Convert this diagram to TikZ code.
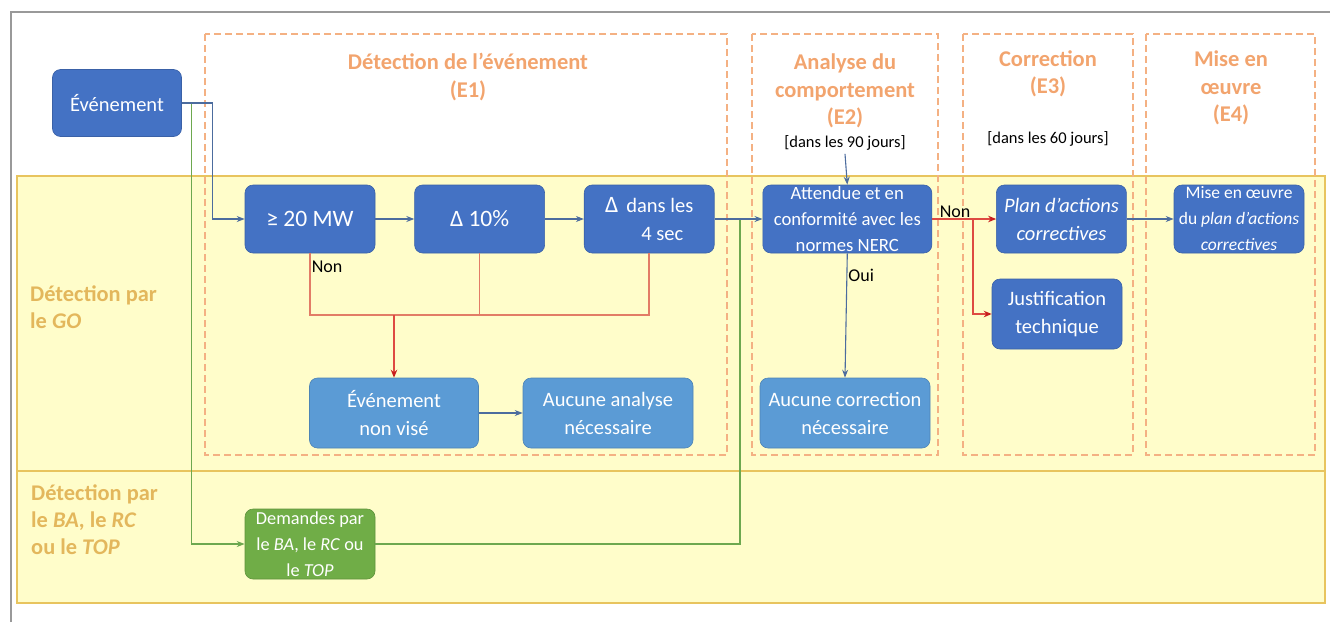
\documentclass[tikz,border=0pt]{standalone}
\usepackage{fontspec}
\setmainfont{Carlito}
\usetikzlibrary{arrows.meta, positioning}

\definecolor{darkbox}{HTML}{4472C4}
\definecolor{lightbox}{HTML}{5B9BD5}
\definecolor{greenbox}{HTML}{70AD47}
\definecolor{stageline}{HTML}{F4B183}
\definecolor{stagetext}{HTML}{F2A46E}
\definecolor{bandfill}{HTML}{FFFDCA}
\definecolor{bandline}{HTML}{E8C45E}
\definecolor{bandtext}{HTML}{E3B75C}
\definecolor{flowblue}{HTML}{4C6C9E}
\definecolor{flowsalmon}{HTML}{E27C66}
\definecolor{flowred}{HTML}{DE4A42}
\definecolor{tipred}{HTML}{C81E1E}
\definecolor{flowgreen}{HTML}{6DA84F}

\begin{document}
\begin{tikzpicture}[
    x=1pt, y=-1pt,
    >=Stealth,
    % Styles
    darkbox/.style={rectangle, draw=darkbox!85!black, fill=darkbox, text=white, rounded corners=8pt, minimum width=130pt, minimum height=68pt, align=center, inner sep=0pt, line width=0.6pt, font=\fontsize{20.5}{28}\selectfont},
    smalltext/.style={font=\fontsize{18.7}{26}\selectfont},
    lightbox/.style={darkbox, draw=lightbox!85!black, fill=lightbox, minimum width=169pt, minimum height=70pt},
    greenbox/.style={darkbox, draw=greenbox!85!black, fill=greenbox, minimum height=70pt, font=\fontsize{18.3}{26}\selectfont},
    stagebox/.style={draw=stageline, dashed, dash pattern=on 7pt off 4pt, line width=1.6pt},
    stagetitle/.style={font=\fontsize{22.5}{27.5}\selectfont\bfseries, text=stagetext, align=center},
    delaytext/.style={font=\fontsize{16.5}{19}\selectfont, text=black},
    bandlabel/.style={font=\fontsize{22.4}{27}\selectfont\bfseries, text=bandtext, align=left, anchor=north west, inner sep=0pt},
    answer/.style={font=\fontsize{18}{20}\selectfont, text=black, inner sep=1pt},
    blueflow/.style={draw=flowblue, line width=1.1pt, -{Stealth[length=8pt, width=6pt]}},
    salmonflow/.style={draw=flowsalmon, line width=1.5pt},
    redarrow/.style={draw=flowred, line width=1.5pt, -{Stealth[length=8pt, width=6.5pt, color=tipred]}},
    greenflow/.style={draw=flowgreen, line width=1.3pt},
]

\useasboundingbox (0,0) rectangle (1330,622);

% === LANES ===
\fill[bandfill] (17,176) rectangle (1325,603);
\draw[bandline, line width=1.4pt] (17,176) rectangle (1325,603);
\draw[bandline, line width=1.4pt] (17,471) -- (1325,471);
\draw[gray!80, line width=1.6pt] (11,622) -- (11,12) -- (1330,12);

\node[bandlabel] (golabel) at (30,286) {Détection par\\le \textit{GO}};
\node[bandlabel] (balabel) at (31,485) {Détection par\\le \textit{BA}, le \textit{RC}\\ou le \textit{TOP}};

% === STAGES ===
\draw[stagebox] (205,34) rectangle (727,455);
\draw[stagebox] (752,34) rectangle (938,455);
\draw[stagebox] (963,34) rectangle (1133,455);
\draw[stagebox] (1146,34) rectangle (1315,455);

\node[stagetitle] (t1) at (468,77) {Détection de l’événement\\(E1)};
\node[stagetitle] (t2) at (845,91) {Analyse du\\comportement\\(E2)};
\node[delaytext] (d90) at (845,143) {[dans les 90 jours]};
\node[stagetitle] (t3) at (1048,74) {Correction\\(E3)};
\node[delaytext] (d60) at (1048,139) {[dans les 60 jours]};
\node[stagetitle] (t4) at (1231,88) {Mise en\\œuvre\\(E4)};

% === NODES ===
\node[darkbox, minimum width=129pt, minimum height=67pt] (evt) at (117,103) {Événement};
\node[darkbox, font=\fontsize{23.5}{28}\selectfont] (mw) at (310,219) {≥ 20 MW};
\node[darkbox, font=\fontsize{23.5}{28}\selectfont, right=39pt of mw] (d10) {Δ 10\%};
\node[darkbox, right=39pt of d10] (d4) {{\fontsize{23.5}{28}\selectfont Δ}\, dans les\\\hspace*{26pt}4 sec};
\node[darkbox, smalltext, minimum width=169pt, right=48pt of d4] (att) {Attendue et en\\conformité avec les\\normes NERC};
\node[darkbox, right=64pt of att] (plan) {\textit{Plan d’actions}\\\textit{correctives}};
\node[darkbox, minimum height=70pt] (just) at (1057,314) {Justification\\technique};
\node[darkbox, font=\fontsize{17.5}{26}\selectfont, right=47pt of plan] (mise) {Mise en œuvre\\du \textit{plan d’actions}\\\textit{correctives}};

\node[lightbox] (nonvise) at (394,413) {Événement\\non visé};
\node[lightbox, minimum width=170pt] (noanalyse) at (608,413) {Aucune analyse\\nécessaire};
\node[lightbox, minimum width=170pt] (nocorr) at (845,413) {Aucune correction\\nécessaire};

\node[greenbox] (dem) at (310,544) {Demandes par\\le \textit{BA}, le \textit{RC} ou\\le \textit{TOP}};

\coordinate (join) at (740,219);
\coordinate (merge) at (394,315);
\coordinate (split) at (973,219);

% === GREEN PATH ===
\draw[greenflow, -{Stealth[length=8pt, width=6pt]}] (evt.east) -- ++(10,0) |- (dem.west);
\draw[greenflow] (dem.east) -| (join);

% === BLUE FLOW ===
\draw[blueflow] (evt.east) -- ++(31,0) |- (mw.west);
\draw[blueflow] (mw) -- (d10);
\draw[blueflow] (d10) -- (d4);
\draw[blueflow] (d4) -- (att);
\draw[blueflow] (d90.south) -- (att.north);
\draw[blueflow] (nonvise) -- (noanalyse);
\draw[blueflow] (att.south) -- node[answer, pos=0.18, right] {Oui} (nocorr.north);
\draw[blueflow] (plan) -- (mise);

% === RED FLOW ===
\draw[salmonflow] (mw.south) -- node[answer, pos=0.22, right] {Non} (mw.south |- merge) -| (d4.south);
\draw[salmonflow] (d10.south) -- (d10.south |- merge);
\draw[redarrow] (merge) -- (nonvise.north);
\draw[redarrow] (att.east) -- node[answer, pos=0.36, above] {Non} (plan.west);
\draw[redarrow] (split) |- (just.west);

\end{tikzpicture}
\end{document}
